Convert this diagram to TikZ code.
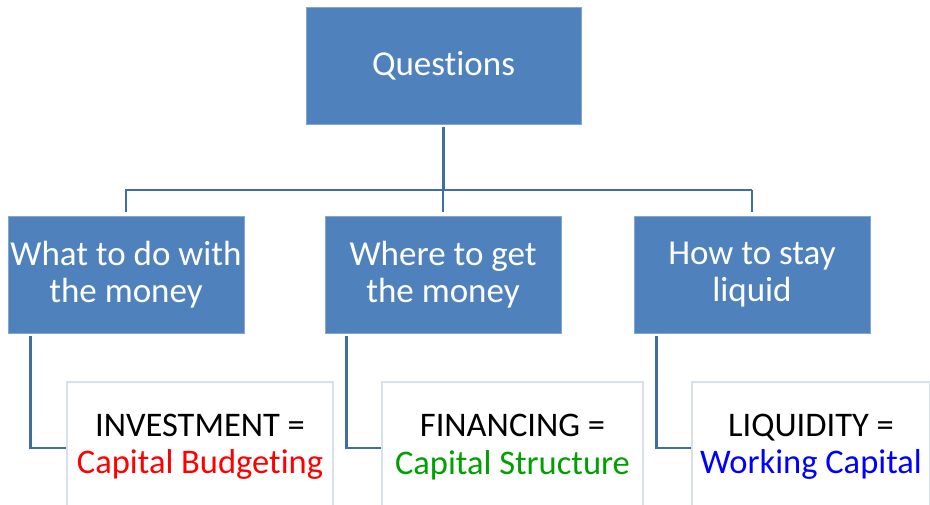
\documentclass[tikz,border=0pt]{standalone}
\usepackage{fontspec}
\setmainfont{Carlito}[Ligatures=NoCommon]
\definecolor{boxblue}{RGB}{79,129,189}
\definecolor{linkblue}{RGB}{65,110,160}
\definecolor{wborder}{RGB}{215,224,237}
\definecolor{txtred}{RGB}{255,0,0}
\definecolor{txtgreen}{RGB}{0,160,0}
\definecolor{txtblue}{RGB}{0,0,255}
\begin{document}
\begin{tikzpicture}[x=1pt,y=-1pt,
  bluebox/.style={rectangle, fill=boxblue, draw=boxblue!70!white, line width=0.6pt, text=white, align=center, inner sep=0pt, font=\fontsize{35}{37.5}\selectfont},
  whitebox/.style={rectangle, fill=white, draw=wborder, line width=1.6pt, align=center, inner sep=0pt, minimum height=130, font=\fontsize{34.5}{37.5}\selectfont},
  link/.style={draw=linkblue, line width=2.8pt}]
\useasboundingbox (0,0) rectangle (930,504);
\node[bluebox, minimum width=275, minimum height=117] (top) at (443.5,65.5) {Questions};
\node[bluebox, minimum width=236, minimum height=117] (b1) at (126,274.5) {What to do with\\the money};
\node[bluebox, minimum width=236, minimum height=117] (b2) at (443,274.5) {Where to get\\the money};
\node[bluebox, minimum width=236, minimum height=117] (b3) at (752,274.5) {How to stay\\liquid};
\node[whitebox, minimum width=266] (w1) at (200,447) {INVESTMENT =\\\textcolor{txtred}{Capital Budgeting}};
\node[whitebox, minimum width=261] (w2) at (512.5,447) {FINANCING =\\\textcolor{txtgreen}{Capital Structure}};
\node[whitebox, minimum width=238] (w3) at (811,447) {LIQUIDITY =\\\textcolor{txtblue}{Working Capital}};
\coordinate (bus) at (0,190);
\draw[link, shorten <=3pt] (top.south) -- (top.south |- bus);
\draw[link, shorten <=4pt] (b1.north) |- (bus -| b3.north);
\draw[link, shorten <=4pt] (b3.north) -- (b3.north |- bus);
\draw[link, shorten <=4pt] (b2.north) -- (b2.north |- bus);
\draw[link, shorten <=3pt] ([xshift=23pt]b1.south west) |- ([yshift=-1pt]w1.west);
\draw[link, shorten <=3pt] ([xshift=22pt]b2.south west) |- ([yshift=-1pt]w2.west);
\draw[link, shorten <=3pt] ([xshift=23pt]b3.south west) |- ([yshift=-1pt]w3.west);
\end{tikzpicture}
\end{document}
